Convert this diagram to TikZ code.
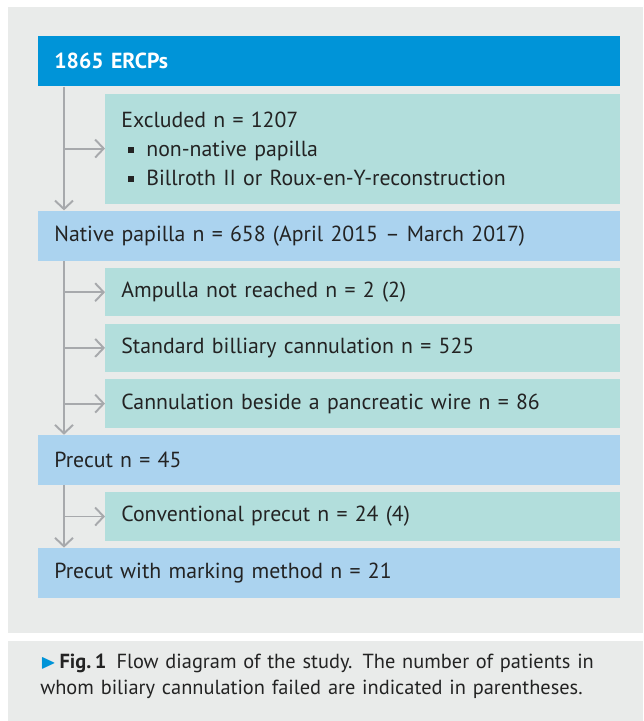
\documentclass[tikz,border=0pt]{standalone}
\usepackage{amssymb}
\usepackage{fontspec}
\setmainfont{PT Sans}
\usetikzlibrary{positioning,arrows.meta}

\definecolor{ercpblue}{RGB}{0,148,216}
\definecolor{mainblue}{RGB}{171,211,239}
\definecolor{sideteal}{RGB}{178,222,220}
\definecolor{panelgrey}{RGB}{233,235,234}
\definecolor{flowgrey}{RGB}{167,169,172}
\definecolor{textgrey}{RGB}{35,35,35}

\newcommand\sqbullet{\hspace*{0.14cm}\rule[0.28ex]{0.12cm}{0.12cm}\hspace*{0.24cm}}

\begin{document}
\begin{tikzpicture}[every node/.style={font=\fontsize{12.4}{16.5}\selectfont, text=textgrey},
    mainbox/.style={rectangle, fill=mainblue, text width=11cm, inner xsep=0.32cm, inner ysep=0pt, minimum height=1cm, align=left},
    sidebox/.style={rectangle, fill=sideteal, text width=9.66cm, inner xsep=0.32cm, inner ysep=0pt, minimum height=0.97cm, align=left},
    flow/.style={draw=flowgrey, line width=1.1pt, -{Straight Barb[length=0.17cm, width=0.36cm, line width=1.1pt]}}]
    \useasboundingbox (0,0) rectangle (12.86,-14.42);
    % Panels
    \fill[panelgrey] (0.16,-0.14) rectangle (12.86,-12.66);
    \fill[panelgrey] (0.16,-12.82) rectangle (12.86,-14.42);

    % Start
    \node[mainbox, fill=ercpblue, anchor=north west, font=\fontsize{12.4}{16.5}\selectfont\bfseries, text=white] (hdr) at (0.76,-0.72) {1865 ERCPs};
    \coordinate (spine) at ([xshift=0.52cm]hdr.south west);
    \node[sidebox, minimum height=2.2cm, below=0.13cm of hdr.south east, anchor=north east] (excl) {Excluded n = 1207\\
        \sqbullet non-native papilla\\
        \sqbullet Billroth II or Roux-en-Y-reconstruction};
    \node[mainbox, below=0.13cm of excl.south west, anchor=north west, xshift=-1.34cm] (native) {Native papilla n = 658 (April 2015 -- March 2017)};

    % Arrows
    \draw[flow] (spine) -- (spine |- native.north);
    \draw[flow] (spine |- excl.west) -- (excl.west);

    % Native papilla
    \coordinate (spine2) at ([xshift=0.52cm]native.south west);
    \node[sidebox, below=0.13cm of native.south east, anchor=north east] (amp) {Ampulla not reached n = 2 (2)};
    \node[sidebox, below=0.13cm of amp] (std) {Standard billiary cannulation n = 525};
    \node[sidebox, below=0.13cm of std] (wire) {Cannulation beside a pancreatic wire n = 86};
    \node[mainbox, below=0.13cm of wire.south west, anchor=north west, xshift=-1.34cm] (precut) {Precut n = 45};

    % Arrows
    \draw[flow] (spine2) -- (spine2 |- precut.north);
    \draw[flow] (spine2 |- amp.west) -- (amp.west);
    \draw[flow] (spine2 |- std.west) -- (std.west);
    \draw[flow] (spine2 |- wire.west) -- (wire.west);

    % Precut
    \coordinate (spine3) at ([xshift=0.52cm]precut.south west);
    \node[sidebox, below=0.13cm of precut.south east, anchor=north east] (conv) {Conventional precut n = 24 (4)};
    \node[mainbox, below=0.13cm of conv.south west, anchor=north west, xshift=-1.34cm] (mark) {Precut with marking method n = 21};

    % Arrows
    \draw[flow] (spine3) -- (spine3 |- mark.north);
    \draw[flow] (spine3 |- conv.west) -- (conv.west);

    % Caption
    \node[anchor=north west, text width=11.9cm, align=left, inner sep=0pt, font=\fontsize{11.6}{14.8}\selectfont] (caption) at (0.8,-13.08) {\textcolor{ercpblue}{$\blacktriangleright$}\,\textbf{Fig.\,1}\enspace Flow diagram of the study. The number of patients in\\ whom biliary cannulation failed are indicated in parentheses.};
\end{tikzpicture}
\end{document}
